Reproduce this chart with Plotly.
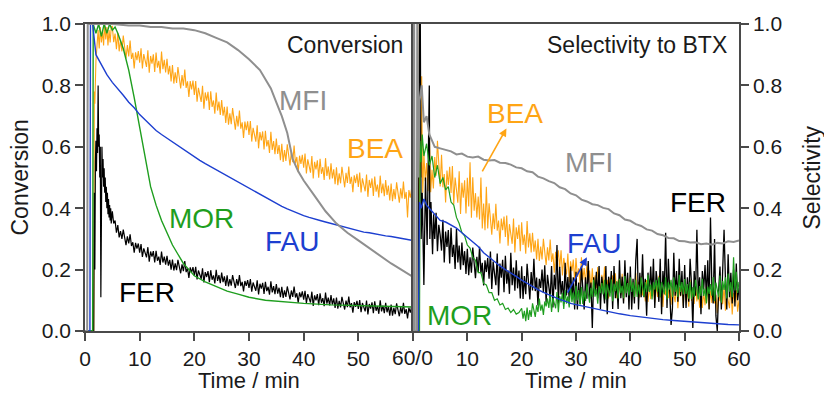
import plotly.graph_objects as go

# ---------------- DATA ----------------
# Left panel: Conversion
mfi_conv_t = [0, 0.4, 0.5, 2, 5, 8, 10, 12, 14, 16, 18, 20, 22, 24, 26, 28, 30, 32, 34, 35, 36, 37, 38, 39, 40,
              42, 44, 46, 48, 50, 52, 54, 56, 58, 60]
mfi_conv = [0, 0, 1.0, 1.0, 1.0, 0.995, 0.995, 0.99, 0.99, 0.985, 0.985, 0.98, 0.97, 0.955, 0.94, 0.915, 0.885,
            0.85, 0.79, 0.745, 0.7, 0.645, 0.56, 0.52, 0.49, 0.44, 0.39, 0.35, 0.32, 0.295, 0.27, 0.245, 0.22,
            0.198, 0.176]

fau_conv_t = [0, 0.9, 1.0, 1.4] + list(range(2, 61))
fau_conv = [0, 0, 1.0, 1.0,
            0.90, 0.865, 0.835, 0.81, 0.79, 0.768, 0.745, 0.727, 0.705, 0.688, 0.668, 0.653, 0.64, 0.628, 0.615,
            0.603, 0.59, 0.578, 0.566, 0.556, 0.545, 0.535, 0.526, 0.515, 0.505, 0.496, 0.486, 0.475, 0.466,
            0.455, 0.446, 0.435, 0.426, 0.416, 0.406, 0.398, 0.39, 0.384, 0.376, 0.37, 0.364, 0.36, 0.355,
            0.35, 0.345, 0.34, 0.336, 0.33, 0.326, 0.322, 0.32, 0.316, 0.314, 0.31, 0.308, 0.304, 0.3, 0.298,
            0.295]

mor_conv_t = [0, 1.4, 1.5, 2, 2.5, 3, 3.5, 4, 4.5, 5, 5.5, 6, 7, 8, 9, 10, 11, 12, 13, 14, 15, 16, 17, 18, 19,
              20, 22, 24, 26, 28, 30, 33, 36, 40, 45, 50, 55, 60]
mor_conv = [0, 0, 1.0, 0.97, 1.0, 0.96, 1.0, 0.97, 1.0, 0.98, 0.99, 0.97, 0.92, 0.85, 0.76, 0.66, 0.56, 0.47,
            0.41, 0.36, 0.32, 0.28, 0.25, 0.22, 0.2, 0.18, 0.16, 0.145, 0.13, 0.12, 0.11, 0.1, 0.095, 0.09,
            0.085, 0.082, 0.08, 0.078]

fer_conv_t0 = [0, 1.6, 1.7, 1.8, 1.9, 2.0, 2.1, 2.2, 2.3, 2.4, 2.5, 2.6, 2.7, 2.8, 2.9, 3.0, 3.1, 3.2, 3.3,
               3.4, 3.5, 3.6, 3.7, 3.8, 3.9, 4.0, 4.1, 4.2, 4.3, 4.4, 4.5, 4.6, 4.7, 4.8, 4.9]
fer_conv_v0 = [0, 0, 0.45, 0.2, 0.55, 0.62, 0.52, 0.66, 0.58, 0.8, 0.6, 0.64, 0.5, 0.6, 0.11, 0.52, 0.6, 0.5,
               0.56, 0.47, 0.53, 0.45, 0.5, 0.42, 0.47, 0.4, 0.45, 0.38, 0.43, 0.37, 0.41, 0.36, 0.4, 0.35, 0.38]
fer_conv = [  # every 0.25 min from 5.0 to 60.0
    0.39, 0.35, 0.36, 0.32, 0.345, 0.305, 0.325, 0.30, 0.33, 0.305, 0.28, 0.308, 0.285, 0.315, 0.277, 0.289, 0.255, 0.287, 0.268, 0.285,
    0.255, 0.283, 0.241, 0.269, 0.257, 0.24, 0.273, 0.226, 0.259, 0.242, 0.26, 0.223, 0.261, 0.229, 0.242, 0.215, 0.259, 0.223, 0.242, 0.216,
    0.245, 0.213, 0.232, 0.2, 0.233, 0.197, 0.22, 0.198, 0.232, 0.21, 0.188, 0.217, 0.195, 0.228, 0.192, 0.205, 0.173, 0.207, 0.19, 0.208,
    0.18, 0.209, 0.168, 0.197, 0.186, 0.17, 0.204, 0.158, 0.192, 0.176, 0.195, 0.159, 0.198, 0.167, 0.181, 0.155, 0.199, 0.163, 0.182, 0.156,
    0.19, 0.159, 0.178, 0.147, 0.181, 0.145, 0.169, 0.148, 0.182, 0.161, 0.14, 0.169, 0.148, 0.182, 0.146, 0.16, 0.129, 0.163, 0.147, 0.166,
    0.14, 0.169, 0.128, 0.158, 0.147, 0.131, 0.165, 0.119, 0.154, 0.138, 0.157, 0.121, 0.16, 0.13, 0.144, 0.118, 0.162, 0.126, 0.146, 0.12,
    0.153, 0.122, 0.141, 0.11, 0.144, 0.108, 0.132, 0.111, 0.145, 0.124, 0.103, 0.132, 0.111, 0.145, 0.109, 0.123, 0.092, 0.126, 0.11, 0.129,
    0.102, 0.131, 0.091, 0.12, 0.109, 0.093, 0.128, 0.082, 0.116, 0.1, 0.12, 0.084, 0.123, 0.092, 0.107, 0.081, 0.125, 0.089, 0.109, 0.083,
    0.117, 0.086, 0.106, 0.075, 0.109, 0.073, 0.098, 0.077, 0.111, 0.09, 0.07, 0.099, 0.078, 0.112, 0.077, 0.091, 0.06, 0.094, 0.079, 0.098,
    0.072, 0.101, 0.061, 0.091, 0.08, 0.064, 0.099, 0.054, 0.088, 0.073, 0.093, 0.058, 0.097, 0.066, 0.081, 0.056, 0.1, 0.064, 0.083, 0.058,
    0.092, 0.061, 0.081, 0.05, 0.086, 0.05, 0.075, 0.055, 0.09, 0.069, 0.048, 0.078, 0.057, 0.092, 0.056, 0.071, 0.041, 0.076, 0.06, 0.08,
    0.065]

bea_conv_t0 = [0, 1.6, 1.7, 1.8, 2.0, 2.2, 2.4, 2.6, 2.8, 3.0, 3.2, 3.4, 3.6, 3.8, 4.0, 4.2, 4.4, 4.6, 4.8]
bea_conv_v0 = [0, 0, 0.78, 0.74, 0.88, 0.93, 0.98, 0.92, 0.99, 0.94, 0.98, 0.93, 1.0, 0.95, 0.99, 0.93, 0.98,
               0.94, 0.99]
bea_conv = [  # every 0.25 min from 5.0 to 60.0
    0.992, 0.941, 0.969, 0.918, 0.971, 0.911, 0.948, 0.911, 0.962, 0.925, 0.888, 0.931, 0.894, 0.946, 0.886, 0.906, 0.855, 0.908, 0.882, 0.912,
    0.874, 0.921, 0.855, 0.902, 0.885, 0.86, 0.914, 0.841, 0.896, 0.871, 0.901, 0.844, 0.907, 0.858, 0.88, 0.839, 0.91, 0.853, 0.883, 0.842,
    0.887, 0.836, 0.864, 0.813, 0.866, 0.806, 0.843, 0.808, 0.86, 0.825, 0.79, 0.834, 0.799, 0.852, 0.792, 0.813, 0.762, 0.814, 0.787, 0.816,
    0.769, 0.814, 0.747, 0.792, 0.773, 0.746, 0.799, 0.724, 0.777, 0.75, 0.779, 0.72, 0.781, 0.73, 0.751, 0.708, 0.777, 0.718, 0.747, 0.704,
    0.752, 0.701, 0.73, 0.678, 0.731, 0.672, 0.709, 0.674, 0.726, 0.691, 0.656, 0.701, 0.666, 0.718, 0.659, 0.68, 0.629, 0.682, 0.654, 0.683,
    0.639, 0.684, 0.617, 0.662, 0.643, 0.617, 0.67, 0.595, 0.648, 0.621, 0.65, 0.591, 0.652, 0.601, 0.622, 0.58, 0.649, 0.59, 0.619, 0.576,
    0.627, 0.577, 0.606, 0.556, 0.61, 0.551, 0.589, 0.554, 0.608, 0.574, 0.539, 0.585, 0.55, 0.604, 0.546, 0.567, 0.517, 0.571, 0.544, 0.574,
    0.532, 0.578, 0.513, 0.559, 0.542, 0.516, 0.57, 0.497, 0.551, 0.526, 0.556, 0.499, 0.561, 0.512, 0.534, 0.492, 0.563, 0.505, 0.536, 0.494,
    0.546, 0.497, 0.527, 0.478, 0.533, 0.475, 0.514, 0.481, 0.535, 0.502, 0.468, 0.515, 0.482, 0.536, 0.479, 0.502, 0.452, 0.507, 0.482, 0.512,
    0.469, 0.516, 0.451, 0.497, 0.48, 0.455, 0.51, 0.437, 0.492, 0.466, 0.497, 0.44, 0.503, 0.454, 0.477, 0.435, 0.506, 0.449, 0.48, 0.439,
    0.492, 0.443, 0.474, 0.425, 0.48, 0.423, 0.462, 0.429, 0.484, 0.451, 0.418, 0.465, 0.432, 0.487, 0.43, 0.453, 0.37, 0.459, 0.434, 0.465,
    0.44]

# Right panel: Selectivity to BTX
mfi_sel_t = [0, 0.15, 0.2, 0.3, 0.7, 0.8, 1.0, 1.2, 1.6, 2.0, 2.5, 3.0, 3.5, 4.0] + list(range(5, 61))
mfi_sel = [0, 0, 1.2, 0, 0, 1.2, 0.5, 0.75, 0.8, 0.68, 0.7, 0.64, 0.62, 0.6,
           0.595, 0.59, 0.585, 0.575, 0.578, 0.568, 0.565, 0.568, 0.558, 0.555, 0.557, 0.548, 0.547, 0.542, 0.533,
           0.53, 0.52, 0.517, 0.503, 0.497, 0.488, 0.482, 0.468, 0.462, 0.448, 0.442, 0.428, 0.422, 0.413, 0.41,
           0.401, 0.397, 0.383, 0.377, 0.363, 0.359, 0.348, 0.342, 0.331, 0.327, 0.316, 0.312, 0.303, 0.302,
           0.293, 0.292, 0.288, 0.289, 0.283, 0.285, 0.281, 0.287, 0.285, 0.292, 0.29, 0.295]

fau_sel_t = [0, 1.0, 1.2, 1.5, 2, 2.5, 3, 3.5, 4, 5, 6, 7, 8, 9, 10, 11, 12, 13, 14, 15, 16, 17, 18, 19, 20,
             21, 22, 23, 24, 25, 26, 27, 28, 29, 30, 32, 34, 36, 38, 40, 42, 44, 46, 48, 50, 52, 54, 56, 58, 60]
fau_sel = [0, 0, 0.42, 0.4, 0.43, 0.41, 0.4, 0.39, 0.38, 0.36, 0.355, 0.345, 0.335, 0.32, 0.305, 0.29, 0.275,
           0.255, 0.24, 0.225, 0.212, 0.2, 0.19, 0.178, 0.166, 0.155, 0.145, 0.135, 0.126, 0.118, 0.11, 0.103,
           0.097, 0.09, 0.086, 0.078, 0.071, 0.064, 0.056, 0.05, 0.045, 0.04, 0.037, 0.034, 0.031, 0.028,
           0.026, 0.023, 0.021, 0.02]

mor_sel_t0 = [0, 1.2, 1.3, 1.5, 1.7, 2.0, 2.5, 3.0, 3.5, 4.0, 4.5, 5.0, 5.5, 6.0, 6.5, 7.0, 7.5, 8.0, 8.5, 9.0,
              9.5, 10.0, 10.5, 11.0, 11.5, 12.0, 12.5, 13.0, 13.5, 14.0, 14.5, 15.0, 15.5, 16.0, 16.5, 17.0,
              17.5, 18.0, 18.5, 19.0, 19.5]
mor_sel_v0 = [0, 0, 0.62, 0.55, 0.64, 0.57, 0.61, 0.54, 0.57, 0.5, 0.54, 0.48, 0.5, 0.46, 0.47, 0.42, 0.41,
              0.37, 0.35, 0.32, 0.31, 0.28, 0.27, 0.24, 0.23, 0.19, 0.19, 0.155, 0.15, 0.125, 0.125, 0.1,
              0.105, 0.085, 0.09, 0.07, 0.075, 0.06, 0.07, 0.055, 0.06]
mor_sel = [  # every 0.25 min from 20.0 to 60.0
    0.074, 0.04, 0.066, 0.032, 0.076, 0.036, 0.068, 0.046, 0.09, 0.068, 0.046, 0.084, 0.062, 0.106, 0.066, 0.086, 0.052, 0.096, 0.08, 0.106,
    0.075, 0.121, 0.062, 0.108, 0.094, 0.074, 0.127, 0.061, 0.114, 0.093, 0.124, 0.072, 0.133, 0.089, 0.113, 0.077, 0.146, 0.094, 0.125, 0.089,
    0.147, 0.1, 0.133, 0.086, 0.143, 0.088, 0.129, 0.098, 0.154, 0.123, 0.092, 0.141, 0.11, 0.167, 0.112, 0.136, 0.089, 0.146, 0.123, 0.156,
    0.119, 0.167, 0.103, 0.152, 0.136, 0.112, 0.168, 0.097, 0.154, 0.13, 0.162, 0.106, 0.17, 0.123, 0.147, 0.107, 0.179, 0.123, 0.156, 0.116,
    0.175, 0.127, 0.159, 0.111, 0.167, 0.111, 0.151, 0.119, 0.175, 0.143, 0.111, 0.159, 0.127, 0.183, 0.127, 0.151, 0.103, 0.159, 0.135, 0.167,
    0.127, 0.175, 0.111, 0.159, 0.143, 0.119, 0.175, 0.103, 0.159, 0.135, 0.167, 0.111, 0.175, 0.127, 0.151, 0.111, 0.183, 0.127, 0.159, 0.119,
    0.169, 0.121, 0.153, 0.105, 0.16, 0.104, 0.143, 0.111, 0.167, 0.135, 0.103, 0.146, 0.114, 0.17, 0.114, 0.138, 0.09, 0.145, 0.121, 0.153,
    0.115, 0.176, 0.097, 0.158, 0.139, 0.11, 0.181, 0.092, 0.163, 0.134, 0.175, 0.106, 0.187, 0.128, 0.159, 0.11, 0.24, 0.132, 0.193, 0.124,
    0.16]

bea_sel_t0 = [0, 0.8, 0.85, 0.95, 1.1, 1.3, 1.5, 1.6, 1.7, 1.8]
bea_sel_v0 = [0, 0, 1.2, 0.2, 0.45, 0.62, 0.5, 0.83, 0.55, 0.45]
bea_sel = [  # every 0.25 min from 2.0 to 60.0
    0.58, 0.488, 0.547, 0.455, 0.66, 0.452, 0.525, 0.464, 0.567, 0.506, 0.62, 0.532, 0.471, 0.574, 0.468, 0.511, 0.419, 0.523, 0.476, 0.535,
    0.45, 0.537, 0.413, 0.5, 0.466, 0.418, 0.52, 0.381, 0.483, 0.434, 0.491, 0.383, 0.499, 0.406, 0.55, 0.369, 0.501, 0.392, 0.449, 0.37,
    0.438, 0.363, 0.5, 0.334, 0.415, 0.328, 0.47, 0.334, 0.416, 0.365, 0.314, 0.383, 0.332, 0.414, 0.327, 0.36, 0.285, 0.366, 0.328, 0.373,
    0.306, 0.376, 0.278, 0.348, 0.322, 0.284, 0.366, 0.256, 0.338, 0.3, 0.346, 0.26, 0.354, 0.28, 0.314, 0.252, 0.358, 0.272, 0.318, 0.256,
    0.32, 0.258, 0.295, 0.233, 0.3, 0.228, 0.275, 0.233, 0.3, 0.258, 0.215, 0.273, 0.23, 0.298, 0.225, 0.253, 0.19, 0.258, 0.225, 0.263,
    0.205, 0.263, 0.181, 0.238, 0.216, 0.184, 0.252, 0.16, 0.227, 0.195, 0.233, 0.161, 0.238, 0.176, 0.204, 0.152, 0.24, 0.167, 0.205, 0.153,
    0.22, 0.158, 0.197, 0.135, 0.204, 0.132, 0.181, 0.139, 0.208, 0.166, 0.125, 0.183, 0.142, 0.21, 0.139, 0.167, 0.106, 0.174, 0.143, 0.181,
    0.128, 0.188, 0.107, 0.167, 0.146, 0.116, 0.186, 0.096, 0.166, 0.135, 0.173, 0.103, 0.182, 0.122, 0.152, 0.101, 0.19, 0.12, 0.16, 0.109,
    0.177, 0.116, 0.156, 0.096, 0.166, 0.095, 0.145, 0.104, 0.173, 0.133, 0.093, 0.152, 0.111, 0.18, 0.109, 0.138, 0.078, 0.147, 0.116, 0.157,
    0.107, 0.166, 0.086, 0.145, 0.125, 0.094, 0.164, 0.074, 0.143, 0.113, 0.152, 0.081, 0.16, 0.1, 0.13, 0.079, 0.168, 0.098, 0.137, 0.088,
    0.157, 0.096, 0.136, 0.076, 0.146, 0.075, 0.125, 0.084, 0.153, 0.113, 0.072, 0.132, 0.091, 0.16, 0.09, 0.118, 0.058, 0.127, 0.097, 0.137,
    0.087, 0.146, 0.066, 0.125, 0.105, 0.074, 0.144, 0.054, 0.124, 0.094, 0.133, 0.063,
    0.1]

fer_sel_t0 = [0, 1.0, 1.1, 1.3, 1.5, 1.7, 2.0, 2.3, 2.6, 2.9, 3.0, 3.1, 3.3, 3.6, 3.8]
fer_sel_v0 = [0, 0, 0.7, 1.2, 0.3, 0.45, 0.15, 0.5, 0.28, 0.75, 0.8, 0.3, 0.42, 0.25, 0.38]
fer_sel = [  # every 0.25 min from 4.0 to 60.0
    0.3, 0.385, 0.26, 0.346, 0.312, 0.262, 0.362, 0.223, 0.324, 0.274, 0.329, 0.22, 0.336, 0.241, 0.281, 0.202, 0.333, 0.223, 0.278, 0.2,
    0.288, 0.214, 0.26, 0.186, 0.268, 0.182, 0.24, 0.19, 0.272, 0.222, 0.172, 0.242, 0.192, 0.274, 0.188, 0.222, 0.148, 0.23, 0.192, 0.238,
    0.17, 0.259, 0.137, 0.226, 0.195, 0.149, 0.252, 0.116, 0.22, 0.174, 0.232, 0.126, 0.245, 0.154, 0.197, 0.121, 0.255, 0.149, 0.207, 0.131,
    0.23, 0.139, 0.197, 0.106, 0.211, 0.104, 0.179, 0.12, 0.219, 0.164, 0.103, 0.192, 0.132, 0.235, 0.13, 0.174, 0.083, 0.17, 0.14, 0.2,
    0.125, 0.214, 0.093, 0.183, 0.153, 0.107, 0.212, 0.077, 0.183, 0.135, 0.28, 0.089, 0.209, 0.119, 0.163, 0.088, 0.222, 0.116, 0.176, 0.101,
    0.21, 0.105, 0.175, 0.07, 0.193, 0.07, 0.158, 0.088, 0.21, 0.14, 0.07, 0.175, 0.105, 0.228, 0.105, 0.158, 0.01, 0.175, 0.123, 0.193,
    0.107, 0.212, 0.072, 0.177, 0.142, 0.09, 0.212, 0.055, 0.177, 0.125, 0.195, 0.072, 0.212, 0.107, 0.16, 0.072, 0.23, 0.107, 0.177, 0.09,
    0.23, 0.11, 0.19, 0.07, 0.21, 0.07, 0.17, 0.09, 0.23, 0.3, 0.07, 0.19, 0.11, 0.25, 0.11, 0.17, 0.05, 0.19, 0.13, 0.21,
    0.115, 0.235, 0.075, 0.195, 0.155, 0.095, 0.235, 0.055, 0.195, 0.135, 0.32, 0.075, 0.235, 0.115, 0.02, 0.075, 0.255, 0.115, 0.195, 0.095,
    0.235, 0.115, 0.195, 0.075, 0.215, 0.075, 0.175, 0.095, 0.235, 0.155, 0.01, 0.195, 0.115, 0.33, 0.115, 0.175, 0.055, 0.195, 0.135, 0.215,
    0.11, 0.23, 0.07, 0.37, 0.15, 0.09, 0.3, 0.05, 0.0, 0.13, 0.21, 0.07, 0.23, 0.33, 0.17, 0.07, 0.25, 0.11, 0.19, 0.09,
    0.2, 0.08, 0.22, 0.1,
    0.14]

x_ticks = [0, 10, 20, 30, 40, 50, 60]
x_left_text = ["0", "10", "20", "30", "40", "50", ""]
x_right_text = ["", "10", "20", "30", "40", "50", "60"]
y_ticks = [0, 0.2, 0.4, 0.6, 0.8, 1.0]

# ---------------- STYLE ----------------
C_MFI = "#8f8f8f"
C_BEA = "#ffa515"
C_FAU = "#1d3fd0"
C_MOR = "#1e9e1e"
C_FER = "#000000"
FONT = "Liberation Sans, Arial, sans-serif"
AXC = "#4a4a4a"
TXT = "#1a1a1a"


def steps(start, step, n):
    return [start + step * i for i in range(n)]


fig = go.Figure()


def add(x, y, color, width, xa, ya):
    fig.add_trace(go.Scatter(x=x, y=y, mode="lines", line=dict(color=color, width=width),
                             xaxis=xa, yaxis=ya, showlegend=False, hoverinfo="skip"))


# Left panel (draw order: BEA, FER, MOR, FAU, MFI)
add(bea_conv_t0 + steps(5.0, 0.25, len(bea_conv)), bea_conv_v0 + bea_conv, C_BEA, 1.1, "x", "y")
add(fer_conv_t0 + steps(5.0, 0.25, len(fer_conv)), fer_conv_v0 + fer_conv, C_FER, 1.2, "x", "y")
add(mor_conv_t, mor_conv, C_MOR, 1.4, "x", "y")
add(fau_conv_t, fau_conv, C_FAU, 1.4, "x", "y")
add(mfi_conv_t, mfi_conv, C_MFI, 2, "x", "y")

# Right panel
add(bea_sel_t0 + steps(2.0, 0.25, len(bea_sel)), bea_sel_v0 + bea_sel, C_BEA, 1.1, "x2", "y2")
add(fer_sel_t0 + steps(4.0, 0.25, len(fer_sel)), fer_sel_v0 + fer_sel, C_FER, 1.3, "x2", "y2")
add(mor_sel_t0 + steps(20.0, 0.25, len(mor_sel)), mor_sel_v0 + mor_sel, C_MOR, 1.2, "x2", "y2")
add(fau_sel_t, fau_sel, C_FAU, 1.4, "x2", "y2")
add(mfi_sel_t, mfi_sel, C_MFI, 2, "x2", "y2")

SPLIT = (413 - 85) / 654

axis_common = dict(showline=True, linecolor=AXC, linewidth=1.5, mirror=True, ticks="outside", ticklen=8,
                   tickwidth=1.5, tickcolor=AXC, showgrid=False, zeroline=False,
                   tickfont=dict(family=FONT, size=21, color=TXT))

fig.update_layout(
    width=824, height=394,
    margin=dict(l=85, r=85, t=24, b=63),
    paper_bgcolor="white", plot_bgcolor="white",
    font=dict(family=FONT, color=TXT),
    xaxis=dict(domain=[0, SPLIT], range=[0, 60], anchor="y", tickvals=x_ticks, ticktext=x_left_text,
               **axis_common),
    yaxis=dict(domain=[0, 1], range=[0, 1], anchor="x", tickvals=y_ticks, tickformat=".1f", **axis_common),
    xaxis2=dict(domain=[SPLIT, 1], range=[0, 60], anchor="y2", tickvals=x_ticks, ticktext=x_right_text,
                **axis_common),
    yaxis2=dict(domain=[0, 1], range=[0, 1], anchor="x2", side="right", tickvals=y_ticks, tickformat=".1f",
                **axis_common),
)

ann = []


def label(text, x, y, color, xref, yref, size=28, xanchor="center"):
    ann.append(dict(text=text, x=x, y=y, xref=xref, yref=yref, showarrow=False, xanchor=xanchor,
                    yanchor="middle", font=dict(family=FONT, size=size, color=color)))


# left labels
label("MFI", 39.9, 0.752, C_MFI, "x", "y")
label("BEA", 53.0, 0.596, C_BEA, "x", "y")
label("MOR", 21.4, 0.365, C_MOR, "x", "y")
label("FAU", 37.8, 0.293, C_FAU, "x", "y")
label("FER", 11.3, 0.124, C_FER, "x", "y")
label("Conversion", 58.6, 0.93, TXT, "x", "y", size=23, xanchor="right")
# right labels
label("BEA", 18.8, 0.71, C_BEA, "x2", "y2")
label("MFI", 32.4, 0.55, C_MFI, "x2", "y2")
label("FER", 52.5, 0.42, C_FER, "x2", "y2")
label("FAU", 33.3, 0.285, C_FAU, "x2", "y2")
label("MOR", 8.5, 0.05, C_MOR, "x2", "y2")
label("Selectivity to BTX", 58.2, 0.93, TXT, "x2", "y2", size=23, xanchor="right")

# arrows
ann.append(dict(x=17.2, y=0.66, ax=12.6, ay=0.515, xref="x2", yref="y2", axref="x2", ayref="y2",
                showarrow=True, arrowhead=2, arrowsize=1, arrowwidth=1.6, arrowcolor=C_BEA, text=""))
ann.append(dict(x=32.0, y=0.24, ax=28.3, ay=0.12, xref="x2", yref="y2", axref="x2", ayref="y2",
                showarrow=True, arrowhead=2, arrowsize=1, arrowwidth=1.6, arrowcolor=C_FAU, text=""))

# axis titles and split tick label
ann.append(dict(text="60/0", x=SPLIT, y=(331 - 357) / 307, xref="paper", yref="paper", showarrow=False,
                xanchor="center", yanchor="middle", font=dict(family=FONT, size=21, color=TXT)))
for xc in (SPLIT / 2, (SPLIT + 1) / 2):
    ann.append(dict(text="Time / min", x=xc, y=(331 - 380) / 307, xref="paper", yref="paper",
                    showarrow=False, xanchor="center", yanchor="middle",
                    font=dict(family=FONT, size=22, color=TXT)))
ann.append(dict(text="Conversion", x=(19 - 85) / 654, y=0.5, xref="paper", yref="paper", textangle=-90,
                showarrow=False, xanchor="center", yanchor="middle", font=dict(family=FONT, size=23, color=TXT)))
ann.append(dict(text="Selectivity", x=(811 - 85) / 654, y=0.5, xref="paper", yref="paper", textangle=-90,
                showarrow=False, xanchor="center", yanchor="middle", font=dict(family=FONT, size=23, color=TXT)))

fig.update_layout(annotations=ann)
fig.write_html("out.html", config={"displayModeBar": False},
               post_script="document.body.style.margin='0px';")
